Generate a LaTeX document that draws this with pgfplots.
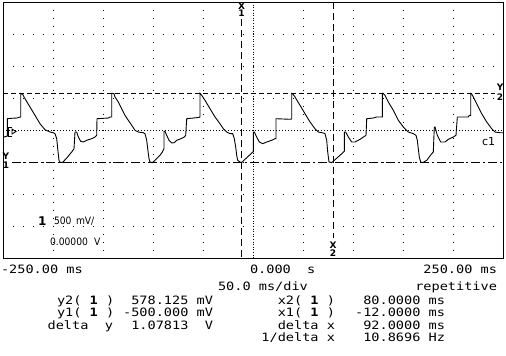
\documentclass[border=0pt]{standalone}
\usepackage{pgfplots}
\pgfplotsset{compat=1.18}
\usepackage{fontspec}
\setmainfont{DejaVu Sans}
\newfontfamily\hpmono[FakeStretch=1.18]{DejaVu Sans Mono}
\newfontfamily\hpnarrow[FakeStretch=0.9]{DejaVu Sans}
\newcommand\bt{\fontsize{11.5bp}{13bp}\hpmono}
\newcommand\st{\fontsize{10.2bp}{11bp}\hpnarrow}
\newcommand\ct{\fontsize{9bp}{9bp}\selectfont\bfseries}
\begin{document}
\begin{tikzpicture}[x=1bp,y=1bp,
  tx/.style={inner sep=0pt,outer sep=0pt},
  cl/.style={inner sep=0pt,outer sep=0pt,font=\ct}]
\useasboundingbox (0,0) rectangle (506,355);
\begin{axis}[at={(3bp,96.7bp)},anchor=south west,
  width=500bp,height=256bp,scale only axis,
  xmin=-250,xmax=250,ymin=-2,ymax=2,
  axis line style={black,line width=1bp},
  xtick=\empty,ytick=\empty,
  clip=true]
% grid (decoration)
\pgfplotsinvokeforeach{-200,-150,-100,-50,50,100,150,200}{
  \draw[black,line width=1bp,dash pattern=on 1bp off 7bp] (axis cs:#1,2) -- (axis cs:#1,-2);}
\pgfplotsinvokeforeach{-1.5,-1,-0.5,0.5,1,1.5}{
  \draw[black,line width=1bp,dash pattern=on 1bp off 9bp] (axis cs:-250,#1) -- (axis cs:250,#1);}
\draw[black,line width=1bp,dash pattern=on 1bp off 1.6bp] (axis cs:0,2) -- (axis cs:0,-2);
\draw[black,line width=1bp,dash pattern=on 1bp off 2bp] (axis cs:-250,0) -- (axis cs:250,0);
% cursors
\addplot[black,line width=1bp,dash pattern=on 7bp off 4bp] coordinates {(-12,1.74) (-12,-2)};
\addplot[black,line width=1bp,dash pattern=on 7bp off 4bp] coordinates {(80,2) (80,-1.68)};
\addplot[black,line width=1bp,dash pattern=on 5bp off 3bp] coordinates {(-250,0.578) (242,0.578)};
\addplot[black,line width=1bp,dash pattern=on 9bp off 3bp on 2bp off 3bp] coordinates {(-241,-0.5) (250,-0.5)};
% waveform
\addplot[black,line width=0.9bp] coordinates {
(-250,-0.110) (-245.7,-0.090) (-245.7,0.181) (-241,0.188) (-236,0.192) (-234,0.203) (-232.3,0.208) (-232.3,0.578) (-230.3,0.560) (-228,0.494) (-223,0.364) (-218,0.234) (-213,0.103) (-208,0.009) (-203,-0.027) (-199.7,-0.038) (-198,-0.053) (-196.3,-0.131) (-195.3,-0.288) (-194,-0.469) (-193,-0.500) (-190.3,-0.500) (-186.3,-0.433) (-181.3,-0.339) (-179,-0.288) (-178,-0.027) (-176.3,-0.027) (-174.7,-0.105) (-172.3,-0.172) (-169.7,-0.183) (-166.3,-0.156) (-161.3,-0.131) (-158,-0.105) (-156.3,-0.078)
(-156,0.181) (-144.7,0.192) (-143,0.208) (-141.3,0.208) (-141.3,0.578) (-139,0.572) (-138,0.520) (-134.7,0.442) (-131.3,0.338) (-128,0.234) (-124.7,0.156) (-121.3,0.078) (-118,0.000) (-114.7,-0.027) (-109.7,-0.038) (-108,-0.053) (-106.3,-0.156) (-105.3,-0.288) (-104,-0.444) (-103,-0.495) (-100.7,-0.505) (-98,-0.469) (-93,-0.391) (-90.7,-0.339) (-89,-0.288) (-89,-0.016) (-88,-0.016) (-86.3,-0.078) (-84,-0.156) (-81.3,-0.198) (-78.7,-0.194) (-76.3,-0.156) (-72,-0.131) (-68.7,-0.105) (-67.3,-0.078)
(-66.3,0.181) (-54.7,0.200) (-53,0.208) (-53,0.578) (-51.3,0.547) (-48,0.469) (-43,0.338) (-38,0.208) (-33,0.103) (-29.7,0.025) (-26.3,-0.027) (-23,-0.053) (-20.3,-0.053) (-18.7,-0.131) (-17.3,-0.261) (-16.3,-0.391) (-15.3,-0.469) (-13,-0.495) (-11.3,-0.505) (-8,-0.453) (-3,-0.381) (-0.3,-0.339) (0.3,-0.339) (0.3,-0.027) (1.3,-0.027) (3.7,-0.105) (6.3,-0.183) (9.7,-0.209) (13.7,-0.183) (18.7,-0.156) (22,-0.131) (23,-0.131)
(23,0.181) (37,0.172) (38.7,0.177) (38.7,0.578) (39.7,0.572) (42,0.520) (47,0.391) (52,0.259) (57,0.130) (62,0.025) (65.3,-0.027) (70.3,-0.042) (72,-0.053) (73.7,-0.156) (74.7,-0.339) (76,-0.495) (78.7,-0.505) (81.3,-0.469) (87,-0.391) (91.3,-0.328) (91.3,-0.027) (92.7,-0.027) (95.3,-0.105) (98.7,-0.183) (102,-0.183) (107,-0.141) (112,-0.089) (113,-0.078)
(113.7,0.181) (120.3,0.192) (123.7,0.208) (129.3,0.208) (129.3,0.578) (130.3,0.572) (132,0.547) (135.3,0.442) (140.3,0.313) (145.3,0.156) (150.3,0.052) (155.3,-0.027) (160.3,-0.053) (163,-0.078) (164.3,-0.156) (165.3,-0.288) (166.3,-0.417) (167.7,-0.495) (169.7,-0.505) (173.7,-0.469) (178.7,-0.366) (180.3,-0.339) (181.3,0.052) (182,0.052) (184.3,-0.078) (187.7,-0.183) (192,-0.183) (195.3,-0.141) (200.3,-0.105) (203,-0.078)
(204.3,0.208) (215.3,0.208) (216.3,0.234) (217.7,0.234) (217.7,0.578) (218.5,0.572) (220.3,0.520) (223.7,0.416) (228.7,0.259) (233.7,0.130) (238.7,0.025) (242,-0.027) (247,-0.038) (250,-0.038)
};
\end{axis}
% ground marker
\draw[black,line width=0.8bp] (12,228) -- (8,228) -- (8,219) -- (12,219);
\draw[black,line width=0.8bp] (12,226) -- (16,223.5) -- (12,221) -- cycle;
% cursor labels
\node[cl] at (241.5,349) {X};
\node[cl] at (241.5,341.5) {1};
\node[cl] at (333,110) {X};
\node[cl] at (333,101.5) {2};
\node[cl] at (500,267.5) {Y};
\node[cl] at (500,258) {2};
\node[cl] at (6,199) {Y};
\node[cl] at (6,190) {1};
% in-plot text
\node[tx,anchor=base west,font=\fontsize{12bp}{12bp}\selectfont\bfseries] at (38,130) {1};
\node[tx,anchor=base west,font=\st] at (54,130.5) {500};
\node[tx,anchor=base west,font=\st] at (76,130.5) {mV/};
\node[tx,anchor=base west,font=\st] at (50,110) {0.00000};
\node[tx,anchor=base west,font=\st] at (94,110) {V};
\node[tx,anchor=base west,font=\fontsize{11bp}{12bp}\selectfont] at (482,210) {c1};
% bottom text
\node[tx,anchor=base west] at (1,81.7) {\bt -250.00 ms};
\node[tx,anchor=base west] at (250,81.7) {\bt 0.000~~s};
\node[tx,anchor=base east] at (497,81.7) {\bt 250.00 ms};
\node[tx,anchor=base west] at (218,65) {\bt 50.0 ms/div};
\node[tx,anchor=base east] at (497,65) {\bt repetitive};
\node[tx,anchor=base west] at (57,51) {\bt y2(~{\bfseries 1}~)};
\node[tx,anchor=base east] at (213,51) {\bt 578.125 mV};
\node[tx,anchor=base east] at (335,51) {\bt x2(~{\bfseries 1}~)};
\node[tx,anchor=base east] at (445,51) {\bt 80.0000 ms};
\node[tx,anchor=base west] at (57,38.5) {\bt y1(~{\bfseries 1}~)};
\node[tx,anchor=base east] at (213,38.5) {\bt -500.000 mV};
\node[tx,anchor=base east] at (335,38.5) {\bt x1(~{\bfseries 1}~)};
\node[tx,anchor=base east] at (445,38.5) {\bt -12.0000 ms};
\node[tx,anchor=base east] at (113,26) {\bt delta~~y};
\node[tx,anchor=base east] at (213,26) {\bt 1.07813~~V};
\node[tx,anchor=base east] at (335,26) {\bt delta x};
\node[tx,anchor=base east] at (445,26) {\bt 92.0000 ms};
\node[tx,anchor=base east] at (335,14) {\bt 1/delta x};
\node[tx,anchor=base east] at (445,14) {\bt 10.8696 Hz};
\end{tikzpicture}
\end{document}
